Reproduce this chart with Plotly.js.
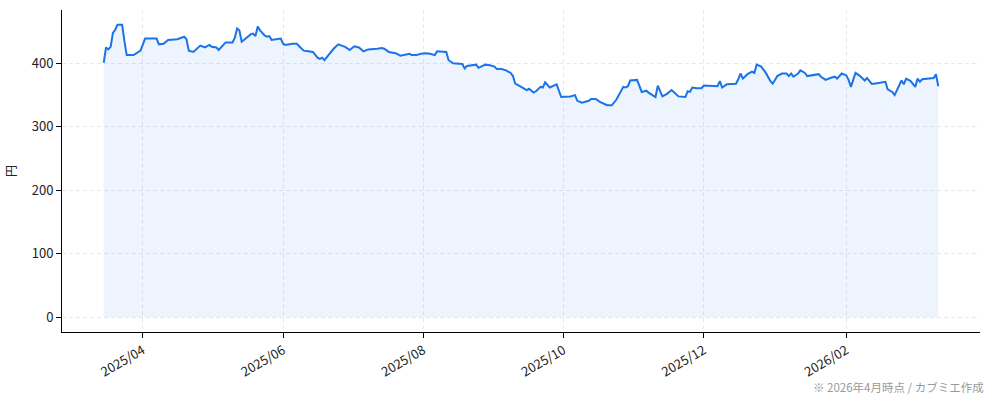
<!DOCTYPE html>
<html><head><meta charset="utf-8">
<script src="https://cdn.plot.ly/plotly-3.0.1.min.js"></script>
<style>html,body{margin:0;padding:0;background:#fff}#chart{width:994px;height:401px}</style>
</head><body><div id="chart"></div>
<script>
const dates = [
"2025-03-15","2025-03-16","2025-03-17","2025-03-18","2025-03-19","2025-03-20","2025-03-21","2025-03-23","2025-03-24","2025-03-25","2025-03-28","2025-03-31",
"2025-04-02","2025-04-07","2025-04-08","2025-04-10","2025-04-12","2025-04-14","2025-04-16","2025-04-19","2025-04-20","2025-04-21","2025-04-23","2025-04-26","2025-04-28","2025-04-30",
"2025-05-01","2025-05-03","2025-05-04","2025-05-07","2025-05-10","2025-05-11","2025-05-12","2025-05-13","2025-05-14","2025-05-16","2025-05-18","2025-05-19","2025-05-20","2025-05-21","2025-05-22","2025-05-24","2025-05-25","2025-05-26","2025-05-27","2025-05-29","2025-05-31",
"2025-06-01","2025-06-02","2025-06-05","2025-06-07","2025-06-08","2025-06-10","2025-06-12","2025-06-14","2025-06-16","2025-06-17","2025-06-18","2025-06-19","2025-06-21","2025-06-23","2025-06-25","2025-06-27","2025-06-28","2025-06-30",
"2025-07-02","2025-07-04","2025-07-05","2025-07-06","2025-07-08","2025-07-09","2025-07-12","2025-07-14","2025-07-15","2025-07-17","2025-07-20","2025-07-22","2025-07-24","2025-07-26","2025-07-27","2025-07-29","2025-07-31",
"2025-08-02","2025-08-04","2025-08-06","2025-08-07","2025-08-09","2025-08-11","2025-08-12","2025-08-14","2025-08-18","2025-08-19","2025-08-20","2025-08-23","2025-08-24","2025-08-25","2025-08-28","2025-08-30",
"2025-09-01","2025-09-02","2025-09-04","2025-09-06","2025-09-08","2025-09-09","2025-09-10","2025-09-12","2025-09-14","2025-09-15","2025-09-16","2025-09-18","2025-09-19","2025-09-21","2025-09-22","2025-09-23","2025-09-25","2025-09-28","2025-09-30",
"2025-10-04","2025-10-06","2025-10-07","2025-10-09","2025-10-12","2025-10-13","2025-10-15","2025-10-17","2025-10-20","2025-10-22","2025-10-24","2025-10-27","2025-10-28","2025-10-29","2025-10-30",
"2025-11-02","2025-11-04","2025-11-06","2025-11-07","2025-11-10","2025-11-11","2025-11-13","2025-11-15","2025-11-17","2025-11-20","2025-11-23","2025-11-24","2025-11-25","2025-11-26","2025-11-28","2025-11-30",
"2025-12-01","2025-12-04","2025-12-07","2025-12-08","2025-12-09","2025-12-11","2025-12-15","2025-12-16","2025-12-17","2025-12-18","2025-12-20","2025-12-22","2025-12-23","2025-12-24","2025-12-26","2025-12-28","2025-12-30","2025-12-31",
"2026-01-02","2026-01-04","2026-01-06","2026-01-07","2026-01-08","2026-01-09","2026-01-11","2026-01-12","2026-01-14","2026-01-15","2026-01-17","2026-01-20","2026-01-21","2026-01-23","2026-01-25","2026-01-27","2026-01-28","2026-01-30",
"2026-02-01","2026-02-02","2026-02-03","2026-02-05","2026-02-07","2026-02-09","2026-02-10","2026-02-12","2026-02-13","2026-02-16","2026-02-18","2026-02-19","2026-02-21","2026-02-22","2026-02-24","2026-02-25","2026-02-26","2026-02-27",
"2026-03-01","2026-03-03","2026-03-04","2026-03-05","2026-03-06","2026-03-09","2026-03-11","2026-03-12","2026-03-13"
];
const prices = [
401,425,422,426,448,453,461,461,435,413,413,420,
439,439,430,431,437,437,438,442,438,420,418,428,425,429,
426,425,421,433,433,440,455,452,434,440,446,447,443,458,452,444,442,443,437,438,439,
431,429,431,431,427,420,419,418,409,407,409,405,414,423,430,428,426,421,
427,425,422,419,422,422,423,424,423,418,416,412,413,415,413,413,415,
416,415,413,419,418,418,405,400,399,392,396,398,398,393,398,397,
395,391,391,389,385,380,368,364,360,358,360,354,356,363,362,370,362,367,347,
348,350,341,338,341,344,344,339,334,334,343,363,362,364,373,
374,355,357,354,347,365,348,352,358,348,347,356,355,362,361,361,
365,365,364,372,362,367,368,375,384,376,383,387,385,398,395,385,372,368,
380,384,384,380,384,379,384,389,385,380,381,383,379,374,377,379,376,384,
381,374,363,385,380,373,377,368,368,370,371,359,355,350,367,373,367,376,
372,363,376,371,375,376,377,383,364
];
const tickDates = ["2025-04-01","2025-06-01","2025-08-01","2025-10-01","2025-12-01","2026-02-01"];
const tickLabels = ["2025/04","2025/06","2025/08","2025/10","2025/12","2026/02"];
const yTicks = [0,100,200,300,400];
const yLabel = "円";
const note = "※ 2026年4月時点 / カブミエ作成";

const t0 = new Date(dates[0]+"T00:00:00Z").getTime();
const t1 = new Date(dates[dates.length-1]+"T00:00:00Z").getTime();
const pad = (t1 - t0) * 0.05;
const xr = [new Date(t0 - pad).toISOString(), new Date(t1 + pad).toISOString()];
const ymax = Math.max(...prices), ymin = 0;
const yr = [ymin - 0.05*(ymax-ymin), ymax + 0.05*(ymax-ymin)];

const font = "Noto Sans CJK JP, Noto Sans, sans-serif";
const trace = {
  x: dates, y: prices, type: "scatter", mode: "lines",
  line: {color: "#1a73e8", width: 2},
  fill: "tozeroy", fillcolor: "rgba(26,115,232,0.08)",
  hoverinfo: "skip"
};
const gridStyle = {showgrid: true, gridcolor: "#e4e4e4", griddash: "4px,3px", gridwidth: 0.8};
const layout = {
  width: 994, height: 401,
  margin: {l: 62, r: 14, t: 10, b: 69},
  paper_bgcolor: "#fff", plot_bgcolor: "#fff",
  showlegend: false,
  font: {family: font, size: 12, color: "#222"},
  xaxis: Object.assign({
    type: "date", range: xr,
    tickvals: tickDates, ticktext: tickLabels, tickangle: -30,
    ticks: "outside", ticklen: 5, tickcolor: "#000", tickwidth: 1,
    showline: true, linecolor: "#000", linewidth: 1, mirror: false,
    zeroline: false, tickfont: {family: font, size: 13, color: "#222"}
  }, gridStyle),
  yaxis: Object.assign({
    range: yr, tickvals: yTicks,
    ticks: "outside", ticklen: 5, tickcolor: "#000", tickwidth: 1,
    showline: true, linecolor: "#000", linewidth: 1, mirror: false,
    zeroline: false, tickfont: {family: font, size: 13, color: "#222"},
    title: {text: yLabel, font: {family: font, size: 12, color: "#222"}, standoff: 12}
  }, gridStyle),
  annotations: [{
    text: note, xref: "paper", yref: "paper", x: 1.0, y: 0, xanchor: "right", yanchor: "top",
    xshift: 6, yshift: -45, showarrow: false,
    font: {family: font, size: 11.5, color: "#999"}
  }]
};
Plotly.newPlot("chart", [trace], layout, {displayModeBar: false, staticPlot: true});
</script></body></html>
